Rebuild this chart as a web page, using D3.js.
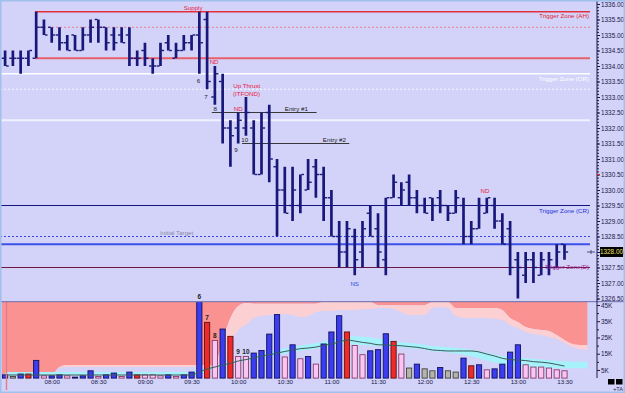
<!DOCTYPE html>
<html>
<head>
<meta charset="utf-8">
<script src="https://cdnjs.cloudflare.com/ajax/libs/d3/7.8.5/d3.min.js"></script>
<style>
  body { margin: 0; background: #d3d3fa; }
  svg { display: block; font-family: "Liberation Sans", Arial, sans-serif; }
</style>
</head>
<body>
<script>
// 5 minute bars, 07:30 .. 13:30
var opens = [
  1334.25, 1334.25, 1334.25, 1334.25, 1334.25, 1335.25, 1335.25, 1335.0, 1334.75, 1335.0,
  1334.5, 1335.0, 1335.5, 1335.25, 1335.0, 1335.0, 1335.0, 1334.25, 1334.5, 1334.0,
  1334.0, 1334.75, 1334.25, 1334.5, 1334.75, 1335.0, 1335.5, 1333.0, 1333.5, 1332.0,
  1332.0, 1332.0, 1332.0, 1330.5, 1332.5, 1330.75, 1330.0, 1329.5, 1329.5, 1330.0,
  1330.75, 1330.5, 1329.75, 1328.5, 1328.0, 1328.5, 1328.0, 1329.25, 1328.75, 1327.75,
  1329.75, 1329.75, 1330.25, 1329.75, 1329.5, 1329.75, 1329.75, 1329.5, 1329.25, 1329.5,
  1328.5, 1328.75, 1329.25, 1329.5, 1329.0, 1328.75, 1327.75, 1327.25, 1327.75, 1327.25,
  1327.5, 1327.5, 1328.25
];
var highs = [
  1334.5, 1334.5, 1334.5, 1334.5, 1335.75, 1335.5, 1335.25, 1335.25, 1335.0, 1335.0,
  1335.25, 1335.5, 1335.5, 1335.25, 1335.25, 1335.25, 1335.25, 1334.5, 1334.75, 1334.25,
  1334.75, 1335.0, 1334.75, 1335.0, 1335.0, 1335.75, 1335.75, 1334.0, 1333.75, 1332.25,
  1332.5, 1333.0, 1332.25, 1332.5, 1332.75, 1331.0, 1330.75, 1330.75, 1330.5, 1331.0,
  1331.0, 1330.75, 1330.0, 1329.0, 1329.0, 1328.75, 1329.0, 1329.5, 1329.25, 1329.75,
  1330.5, 1330.25, 1330.5, 1330.0, 1329.75, 1329.75, 1330.0, 1329.5, 1330.0, 1329.75,
  1329.0, 1329.75, 1329.75, 1329.75, 1329.25, 1329.0, 1328.0, 1328.0, 1328.0, 1328.0,
  1328.0, 1328.25, 1328.25
];
var lows = [
  1334.0, 1334.0, 1333.75, 1334.0, 1334.25, 1335.0, 1334.75, 1334.5, 1334.5, 1334.5,
  1334.5, 1334.75, 1334.75, 1334.5, 1334.5, 1334.75, 1334.0, 1334.0, 1334.0, 1333.75,
  1334.0, 1334.5, 1334.25, 1334.5, 1334.5, 1333.75, 1333.25, 1332.75, 1331.5, 1330.75,
  1331.5, 1331.75, 1330.5, 1330.5, 1330.25, 1328.5, 1329.25, 1329.0, 1329.25, 1330.0,
  1329.75, 1329.0, 1328.5, 1327.5, 1327.5, 1327.25, 1327.5, 1328.5, 1327.5, 1327.25,
  1329.75, 1329.5, 1329.5, 1329.25, 1329.25, 1329.0, 1329.25, 1329.0, 1329.25, 1328.25,
  1328.25, 1328.75, 1329.25, 1328.75, 1328.25, 1327.25, 1326.5, 1327.0, 1327.0, 1327.25,
  1327.25, 1327.5, 1327.75
];
var closes = [
  1334.0, 1334.25, 1334.25, 1334.5, 1335.25, 1335.0, 1335.0, 1334.75, 1334.5, 1334.5,
  1335.0, 1335.25, 1335.25, 1334.75, 1334.75, 1334.75, 1334.25, 1334.25, 1334.25, 1334.0,
  1334.5, 1334.5, 1334.5, 1334.75, 1335.0, 1334.75, 1333.5, 1333.75, 1332.0, 1331.75,
  1332.25, 1332.5, 1330.5, 1332.0, 1331.0, 1330.0, 1329.25, 1330.0, 1330.5, 1330.25,
  1330.5, 1329.75, 1328.5, 1328.0, 1328.75, 1327.75, 1328.75, 1328.5, 1328.0, 1329.75,
  1330.25, 1330.0, 1329.75, 1329.5, 1329.25, 1329.5, 1329.5, 1329.25, 1329.75, 1328.5,
  1328.75, 1329.5, 1329.75, 1329.0, 1328.25, 1327.5, 1327.5, 1327.75, 1327.5, 1327.75,
  1327.75, 1328.0, 1328.0
];

// volume in thousands, and bar type: b = up/blue, r = red, p = pink, g = grey
var volumes = [
  2.0, 1.0, 2.5, 2.5, 10.9, 1.4, 1.4, 2.0, 1.4, 0.6,
  1.4, 4.5, 1.0, 2.0, 3.1, 1.0, 3.7, 2.0, 2.0, 2.0,
  1.4, 2.0, 1.0, 2.0, 3.7, 47.3, 34.3, 23.2, 30.2, 25.7,
  13.3, 13.3, 15.4, 17.0, 27.1, 39.1, 13.0, 20.5, 11.9, 13.3,
  8.6, 21.0, 28.4, 38.4, 28.4, 20.1, 14.4, 16.8, 17.5, 27.3,
  22.6, 14.8, 6.2, 8.6, 5.7, 4.5, 6.5, 4.5, 3.7, 12.3,
  7.6, 8.2, 5.1, 5.7, 8.6, 16.0, 20.5, 8.2, 6.8, 6.8,
  6.2, 5.1, 4.5
];
var volTypes = [
  "b","g","b","r","b","p","b","b","p","b",
  "b","b","p","b","b","p","b","r","p","p",
  "p","b","p","b","b","b","r","p","b","r",
  "p","p","b","b","b","b","p","b","p","b",
  "p","b","b","b","r","p","p","b","b","b",
  "r","p","g","b","g","g","b","g","g","b",
  "r","b","p","b","b","b","b","p","p","p",
  "p","p","p"
];
var avgVolume = [
  1.9, 1.9, 1.9, 1.9, 1.9, 1.9, 1.9, 1.9, 1.9, 1.9,
  1.9, 1.9, 1.9, 1.9, 1.9, 1.9, 1.9, 1.9, 1.9, 1.9,
  1.9, 1.9, 1.9, 1.9, 1.9, 3.8, 5.6, 6.8, 8.1, 9.0,
  10.5, 11.4, 12.4, 13.6, 14.3, 15.4, 16.4, 17.3, 18.1, 18.5,
  19.1, 20.1, 21.0, 22.2, 23.4, 22.8, 22.0, 21.4, 20.5, 20.4,
  20.1, 19.9, 19.4, 19.0, 18.2, 17.3, 17.0, 16.7, 16.7, 16.7,
  16.7, 16.1, 14.8, 13.6, 12.2, 11.4, 11.1, 10.8, 10.1, 9.8,
  9.3, 8.4, 7.4
];

// volume bands (thousands), run three bars past the last one
var salmonEdge = [
  2.5, 2.5, 2.5, 2.5, 2.5, 2.5, 2.5, 6.8, 8.1, 8.1,
  8.1, 8.1, 8.1, 8.1, 8.1, 8.1, 8.1, 8.1, 8.1, 8.1,
  8.1, 8.1, 8.1, 8.1, 8.1, 8.1, 8.1, 8.1, 23.4, 37.0,
  44.4, 46.2, 45.8, 45.8, 45.8, 45.8, 45.8, 45.8, 45.8, 45.8,
  45.8, 46.8, 46.8, 46.8, 46.8, 46.8, 46.8, 46.8, 44.9, 44.9,
  44.9, 44.9, 44.9, 44.9, 44.9, 46.8, 46.8, 46.8, 43.1, 43.1,
  43.1, 43.1, 43.1, 43.1, 41.9, 37.0, 34.5, 31.4, 30.2, 29.6,
  29.0, 26.5, 23.4, 21.0, 20.4, 20.4
];
var pinkEdge = [
  2.5, 2.5, 2.5, 2.5, 2.5, 2.5, 2.5, 6.2, 6.8, 6.8,
  6.8, 6.8, 6.8, 6.8, 6.8, 6.8, 6.8, 6.8, 6.8, 6.8,
  6.8, 6.8, 6.8, 6.8, 6.8, 6.8, 6.8, 6.2, 6.2, 20.4,
  29.6, 32.7, 37.0, 38.2, 38.8, 39.4, 39.4, 38.8, 37.6, 38.2,
  40.7, 41.3, 41.3, 41.9, 41.9, 41.9, 42.5, 42.5, 43.1, 43.1,
  42.5, 40.7, 38.8, 38.8, 38.8, 43.1, 43.7, 43.1, 38.2, 37.0,
  37.0, 37.0, 37.0, 36.4, 35.8, 32.7, 30.8, 28.4, 27.1, 26.5,
  25.3, 24.1, 21.6, 19.1, 17.9, 17.3
];
var cyanTop = [
  3.8, 3.8, 3.8, 3.8, 3.8, 3.8, 3.8, 3.8, 3.8, 3.8,
  3.8, 3.8, 3.8, 3.8, 3.8, 3.8, 3.8, 3.8, 3.8, 3.8,
  3.8, 3.8, 3.8, 3.8, 3.8, 4.5, 6.5, 8.0, 9.5, 10.8,
  12.0, 13.0, 14.0, 15.2, 16.2, 17.2, 18.2, 19.2, 20.0, 20.8,
  21.6, 22.6, 23.6, 24.6, 25.5, 25.8, 25.5, 25.0, 24.2, 23.5,
  22.8, 22.0, 21.6, 21.2, 20.6, 19.8, 19.3, 19.0, 18.6, 18.2,
  17.6, 16.6, 15.6, 14.6, 13.6, 13.0, 12.6, 12.2, 11.8, 11.4,
  11.0, 10.6, 10.3, 10.1, 10.0, 10.0
];
var cyanBottom = [
  1.6, 1.6, 1.6, 1.6, 1.6, 1.6, 1.6, 1.6, 1.6, 1.6,
  1.6, 1.6, 1.6, 1.6, 1.6, 1.6, 1.6, 1.6, 1.6, 1.6,
  1.6, 1.6, 1.6, 1.6, 1.6, 2.5, 4.2, 5.5, 6.8, 8.0,
  9.2, 10.2, 11.2, 12.3, 13.2, 14.2, 15.2, 16.0, 16.8, 17.4,
  18.0, 18.8, 19.6, 20.4, 20.6, 20.6, 20.4, 20.0, 19.6, 19.4,
  19.2, 18.8, 18.4, 18.0, 17.4, 16.6, 16.2, 15.8, 15.2, 14.4,
  13.4, 12.2, 10.8, 9.6, 8.6, 7.8, 7.2, 6.8, 6.4, 6.2,
  6.0, 6.0, 6.0, 6.0, 6.0, 6.0
];

// horizontal levels
var levelNames  = ["AH", "AH mid", "AL", "OR", "OR mid", "OL", "CR", "Initial Target", "CR low", "D"];
var levelPrices = [1335.75, 1335.25, 1334.25, 1333.75, 1333.25, 1332.25, 1329.5, 1328.5, 1328.25, 1327.5];
var entryLabels = ["Entry #1", "Entry #2"];
var entryPrices = [1332.5, 1331.5];

var waveBars   = [25, 26, 27, 30, 31];
var waveLabels = ["6", "7", "8", "9", "10"];

var priceTicks = [1326.5, 1327, 1327.5, 1328, 1328.5, 1329, 1329.5, 1330, 1330.5, 1331,
                  1331.5, 1332, 1332.5, 1333, 1333.5, 1334, 1334.5, 1335, 1335.5, 1336];
var volTicks = [5, 15, 25, 35, 45];
var timeTicks = ["08:00", "08:30", "09:00", "09:30", "10:00", "10:30", "11:00",
                 "11:30", "12:00", "12:30", "13:00", "13:30"];
var lastPrice = 1328.0;

var svgConfig = {
  id: "mySvg",
  width: 625,
  height: 393
};

var parseTime = d3.timeParse("%H:%M");
var t0 = parseTime("07:30");
function barTime(i) { return new Date(t0.getTime() + i * 300000); }

var barTimes = opens.map(function(d, i) { return barTime(i); });
var bandTimes = salmonEdge.map(function(d, i) { return barTime(i); });

var xScale = d3.scaleTime()
  .domain([t0, parseTime("13:30")])
  .range([5.1, 564.5]);
function xAt(i) { return xScale(barTime(i)); }

var yPrice = d3.scaleLinear().domain([1326.5, 1336]).range([298.5, 4]);
var yVol = d3.scaleLinear().domain([0, 45]).range([378.1, 305]);

var svg = d3.select("body").append("svg")
  .attr("id", svgConfig.id)
  .attr("width", svgConfig.width)
  .attr("height", svgConfig.height);

svg.append("rect")
  .attr("width", svgConfig.width)
  .attr("height", svgConfig.height)
  .attr("fill", "#d3d3fa");

// ---------- price panel ----------
var levelLook = {
  "AH":             { color: "#e4303c", width: 1.5, dash: null,  x0: 35 },
  "AH mid":         { color: "#e87c90", width: 1,   dash: "2,2", x0: 40 },
  "AL":             { color: "#e8606a", width: 2,   dash: null,  x0: 35 },
  "OR":             { color: "#ffffff", width: 1.3, dash: null,  x0: 0 },
  "OR mid":         { color: "#f6f6ff", width: 1,   dash: "2,2", x0: 0 },
  "OL":             { color: "#f0f0ff", width: 2,   dash: null,  x0: 0 },
  "CR":             { color: "#141480", width: 1.2, dash: null,  x0: 0 },
  "Initial Target": { color: "#3448d8", width: 1,   dash: "2,2", x0: 0 },
  "CR low":         { color: "#3c50e8", width: 2,   dash: null,  x0: 0 },
  "D":              { color: "#701440", width: 1.2, dash: null,  x0: 0 }
};

svg.append("g").selectAll("line")
  .data(levelPrices)
  .enter().append("line")
  .attr("x1", function(d, i) { return levelLook[levelNames[i]].x0; })
  .attr("x2", 590)
  .attr("y1", function(d) { return yPrice(d); })
  .attr("y2", function(d) { return yPrice(d); })
  .attr("stroke", function(d, i) { return levelLook[levelNames[i]].color; })
  .attr("stroke-width", function(d, i) { return levelLook[levelNames[i]].width; })
  .attr("stroke-dasharray", function(d, i) { return levelLook[levelNames[i]].dash; });

// entry lines
var entryFrom = [26.6, 30.5], entryTo = [40.1, 44.3], entryText = [36.0, 40.9];
svg.append("g").selectAll("line")
  .data(entryPrices)
  .enter().append("line")
  .attr("x1", function(d, i) { return xAt(entryFrom[i]); })
  .attr("x2", function(d, i) { return xAt(entryTo[i]); })
  .attr("y1", function(d) { return yPrice(d); })
  .attr("y2", function(d) { return yPrice(d); })
  .attr("stroke", "#383838")
  .attr("stroke-width", 1);

svg.append("g").selectAll("text")
  .data(entryPrices)
  .enter().append("text")
  .attr("x", function(d, i) { return xAt(entryText[i]); })
  .attr("y", function(d) { return yPrice(d) - 1.8; })
  .attr("font-size", 6.2)
  .attr("fill", "#202020")
  .text(function(d, i) { return entryLabels[i]; });

// OHLC bars
var barColor = "#18187a";
var barG = svg.append("g").selectAll("g")
  .data(barTimes)
  .enter().append("g");

barG.append("line")
  .attr("x1", function(d) { return xScale(d); })
  .attr("x2", function(d) { return xScale(d); })
  .attr("y1", function(d, i) { return yPrice(highs[i]); })
  .attr("y2", function(d, i) { return yPrice(lows[i]); })
  .attr("stroke", barColor)
  .attr("stroke-width", 2.7);

barG.append("line")
  .attr("x1", function(d) { return xScale(d) - 3.6; })
  .attr("x2", function(d) { return xScale(d) - 1; })
  .attr("y1", function(d, i) { return yPrice(opens[i]); })
  .attr("y2", function(d, i) { return yPrice(opens[i]); })
  .attr("stroke", barColor)
  .attr("stroke-width", 1.4);

barG.append("line")
  .attr("x1", function(d) { return xScale(d) + 1; })
  .attr("x2", function(d) { return xScale(d) + 3.6; })
  .attr("y1", function(d, i) { return yPrice(closes[i]); })
  .attr("y2", function(d, i) { return yPrice(closes[i]); })
  .attr("stroke", barColor)
  .attr("stroke-width", 1.4);

// annotations (bar index, price)
var red = "#e8203a";
var notes = [
  { t: "Supply", i: 24.2, p: 1335.82, c: red, a: "middle" },
  { t: "ND", i: 26.9, p: 1334.05, c: red, a: "middle" },
  { t: "Up Thrust", i: 31.1, p: 1333.29, c: red, a: "middle" },
  { t: "(ITFOND)", i: 31.07, p: 1333.03, c: red, a: "middle" },
  { t: "ND", i: 30.0, p: 1332.56, c: red, a: "middle" },
  { t: "Initial Target", i: 19.94, p: 1328.55, c: "#8a8aa8", a: "start" },
  { t: "NS", i: 45.0, p: 1326.9, c: "#3050e0", a: "middle" },
  { t: "ND", i: 61.76, p: 1329.89, c: red, a: "middle" }
];
var wavePrices = [1333.45, 1332.94, 1332.55, 1331.23, 1331.56];
var waveShift = [-0.1, -0.15, 0.05, -0.3, -0.15];
waveLabels.forEach(function(s, k) {
  notes.push({ t: s, i: waveBars[k] + waveShift[k], p: wavePrices[k], c: "#202020", a: "middle" });
});

svg.append("g").selectAll("text")
  .data(notes)
  .enter().append("text")
  .attr("x", function(d) { return xAt(d.i); })
  .attr("y", function(d) { return yPrice(d.p); })
  .attr("text-anchor", function(d) { return d.a; })
  .attr("font-size", 6.2)
  .attr("fill", function(d) { return d.c; })
  .text(function(d) { return d.t; });

// trigger zone captions on the right
var zoneLabels = [
  { t: "Trigger Zone (AH)", p: 1335.55, c: "#e4202c" },
  { t: "Trigger Zone (OR)", p: 1333.52, c: "#ffffff" },
  { t: "Trigger Zone (CR)", p: 1329.26, c: "#2030d8" },
  { t: "Trigger Zone(D)", p: 1327.44, c: "#9a2088" }
];
svg.append("g").selectAll("text")
  .data(zoneLabels)
  .enter().append("text")
  .attr("x", 589)
  .attr("y", function(d) { return yPrice(d.p); })
  .attr("text-anchor", "end")
  .attr("font-size", 6.2)
  .attr("fill", function(d) { return d.c; })
  .text(function(d) { return d.t; });

// ---------- volume panel ----------
var volG = svg.append("g");
svg.append("clipPath").attr("id", "volClip")
  .append("rect").attr("x", 2).attr("y", 302).attr("width", 585.5).attr("height", 77);
volG.attr("clip-path", "url(#volClip)");

var salmonArea = d3.area()
  .x(function(d) { return xScale(d); })
  .y0(function(d, i) { return yVol(salmonEdge[i]); })
  .y1(yVol(50))
  .curve(d3.curveMonotoneX);
var pinkArea = d3.area()
  .x(function(d) { return xScale(d); })
  .y0(function(d, i) { return yVol(pinkEdge[i]); })
  .y1(function(d, i) { return yVol(salmonEdge[i]); })
  .curve(d3.curveMonotoneX);
var cyanArea = d3.area()
  .x(function(d) { return xScale(d); })
  .y0(function(d, i) { return yVol(cyanBottom[i]); })
  .y1(function(d, i) { return yVol(cyanTop[i]); })
  .curve(d3.curveMonotoneX);

volG.append("path").datum(bandTimes).attr("d", salmonArea).attr("fill", "#fa9292");
volG.append("path").datum(bandTimes).attr("d", pinkArea).attr("fill", "#fccfd3");
volG.append("path").datum(bandTimes).attr("d", cyanArea).attr("fill", "#a6f2fa");
// left edge pad before first bar
volG.append("rect").attr("x", 2).attr("y", 302).attr("width", 3.2)
  .attr("height", yVol(salmonEdge[0]) - 302).attr("fill", "#fa9292");

var volFill = { b: "#3c3cf0", r: "#f02a2a", p: "#f8c6f2", g: "#b4b4a8" };
var volStroke = { b: "#10105c", r: "#5c1010", p: "#8a3a6a", g: "#404040" };

volG.selectAll("rect.vol")
  .data(volumes)
  .enter().append("rect")
  .attr("class", "vol")
  .attr("x", function(d, i) { return xScale(barTimes[i]) - 2.6; })
  .attr("y", function(d) { return yVol(d); })
  .attr("width", 5.2)
  .attr("height", function(d) { return yVol(0) - yVol(d); })
  .attr("fill", function(d, i) { return volFill[volTypes[i]]; })
  .attr("stroke", function(d, i) { return volStroke[volTypes[i]]; })
  .attr("stroke-width", 0.9);

var maLine = d3.line()
  .x(function(d, i) { return xScale(barTimes[i]); })
  .y(function(d) { return yVol(d); })
  .curve(d3.curveMonotoneX);
volG.append("path")
  .attr("d", maLine(avgVolume))
  .attr("fill", "none")
  .attr("stroke", "#3e5858")
  .attr("stroke-width", 1);

// session marker
svg.append("line")
  .attr("x1", 6.5).attr("x2", 6.5).attr("y1", 302).attr("y2", 390)
  .attr("stroke", "#e27a8a").attr("stroke-width", 1.4);

// wave numbers above volume bars
svg.append("g").selectAll("text")
  .data(waveBars)
  .enter().append("text")
  .attr("x", function(d) { return xScale(barTimes[d]); })
  .attr("y", function(d) { return Math.max(yVol(volumes[d]) - 2.5, 298); })
  .attr("text-anchor", "middle")
  .attr("font-size", 6.5)
  .attr("font-weight", "bold")
  .attr("fill", "#202020")
  .text(function(d, k) { return waveLabels[k]; });

// panel separator
svg.append("line")
  .attr("x1", 0).attr("x2", 625).attr("y1", 301.7).attr("y2", 301.7)
  .attr("stroke", "#6a6aa8").attr("stroke-width", 1);

// ---------- axes ----------
var axisColor = "#181848";
svg.append("line")
  .attr("x1", 597).attr("x2", 597).attr("y1", 0).attr("y2", 378)
  .attr("stroke", axisColor).attr("stroke-width", 1);

var minorAxis = d3.axisRight(yPrice)
  .tickValues(d3.range(1326.5, 1336.01, 0.1))
  .tickSize(2)
  .tickFormat("");
var gMinor = svg.append("g").attr("transform", "translate(597,0)").call(minorAxis);
gMinor.select(".domain").remove();
gMinor.selectAll("line").attr("stroke", axisColor);

var yAxis = d3.axisRight(yPrice)
  .tickValues(priceTicks)
  .tickSize(3)
  .tickPadding(1)
  .tickFormat(d3.format(".2f"));
var gy = svg.append("g").attr("transform", "translate(597,0)").call(yAxis);
gy.select(".domain").remove();
gy.selectAll("line").attr("stroke", axisColor);
gy.selectAll("text").attr("font-size", 6.4).attr("fill", axisColor)
  .attr("font-family", "Liberation Sans, Arial, sans-serif");

var vMinor = d3.axisRight(yVol).tickValues([10, 20, 30, 40]).tickSize(2).tickFormat("");
var gvm = svg.append("g").attr("transform", "translate(597,0)").call(vMinor);
gvm.select(".domain").remove();
gvm.selectAll("line").attr("stroke", axisColor);

var vAxis = d3.axisRight(yVol)
  .tickValues(volTicks)
  .tickSize(3)
  .tickPadding(1)
  .tickFormat(function(d) { return d + "K"; });
var gv = svg.append("g").attr("transform", "translate(597,0)").call(vAxis);
gv.select(".domain").remove();
gv.selectAll("line").attr("stroke", axisColor);
gv.selectAll("text").attr("font-size", 6.4).attr("fill", axisColor)
  .attr("font-family", "Liberation Sans, Arial, sans-serif");

var xAxis = d3.axisBottom(xScale)
  .tickValues(timeTicks.map(parseTime))
  .tickSize(0)
  .tickPadding(2)
  .tickFormat(d3.timeFormat("%H:%M"));
var gx = svg.append("g").attr("transform", "translate(0,378)").call(xAxis);
gx.select(".domain").remove();
gx.selectAll("text").attr("font-size", 6.2).attr("fill", axisColor)
  .attr("font-family", "Liberation Sans, Arial, sans-serif");

// current price tag
svg.append("rect")
  .attr("x", 600).attr("y", yPrice(lastPrice) - 5)
  .attr("width", 23).attr("height", 10)
  .attr("fill", "#000000");
svg.append("text")
  .attr("x", 611.5).attr("y", yPrice(lastPrice) + 2.3)
  .attr("text-anchor", "middle")
  .attr("font-size", 6.4)
  .attr("fill", "#f0e070")
  .text(d3.format(".2f")(lastPrice));
svg.append("line")
  .attr("x1", 587).attr("x2", 595).attr("y1", yPrice(lastPrice)).attr("y2", yPrice(lastPrice))
  .attr("stroke", "#303060").attr("stroke-width", 0.8);
svg.append("line")
  .attr("x1", 591).attr("x2", 591).attr("y1", yPrice(lastPrice) - 2).attr("y2", yPrice(lastPrice) + 2)
  .attr("stroke", "#303060").attr("stroke-width", 0.8);
svg.append("line")
  .attr("x1", 597).attr("x2", 600).attr("y1", yPrice(1330.5)).attr("y2", yPrice(1330.5))
  .attr("stroke", "#e03030").attr("stroke-width", 1.2);

// corner widgets
svg.append("rect").attr("x", 608).attr("y", 379).attr("width", 6.5).attr("height", 5.5).attr("fill", "#000");
svg.append("rect").attr("x", 616).attr("y", 379).attr("width", 6.5).attr("height", 5.5).attr("fill", "#000");
svg.append("text").attr("x", 623).attr("y", 391).attr("text-anchor", "end")
  .attr("font-size", 5.5).attr("fill", axisColor).text("+TA");

// window frame
svg.append("rect")
  .attr("x", 0.75).attr("y", 0.75)
  .attr("width", svgConfig.width - 1.5).attr("height", svgConfig.height - 1.5)
  .attr("fill", "none")
  .attr("stroke", "#a2c0ec")
  .attr("stroke-width", 1.5);
</script>
</body>
</html>
